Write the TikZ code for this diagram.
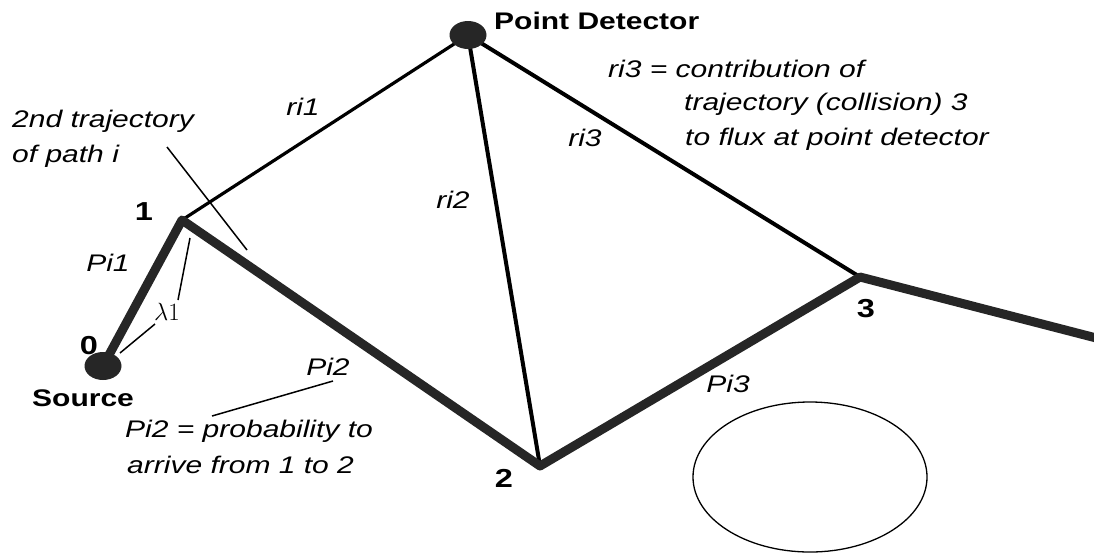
\documentclass[tikz,border=0pt]{standalone}
\usepackage{fontspec}
\setmainfont[FakeStretch=1.25]{Liberation Sans}
\usetikzlibrary{shapes.geometric}
\begin{document}
\begin{tikzpicture}[x=1pt,y=-1pt,
  blob/.style={ellipse, fill=black!85, inner sep=0pt, minimum width=37pt, minimum height=28pt},
  trackline/.style={line width=9pt, draw=black!85, line join=round},
  ray/.style={line width=4pt, draw=black},
  leader/.style={line width=1.5pt},
  lab/.style={font=\fontsize{24}{28}\selectfont\itshape, inner sep=0pt},
  num/.style={font=\fontsize{26}{30}\selectfont\bfseries, inner sep=0pt},
  ttl/.style={font=\fontsize{24}{28}\selectfont\bfseries, inner sep=0pt},
]
\useasboundingbox (0,0) rectangle (1094,555);

% collision points
\coordinate (p1) at (182,220);
\coordinate (p2) at (540,466);
\coordinate (p3) at (860,277);
\coordinate (pend) at (1104,340);
\coordinate (s0) at (103,366);
\coordinate (d0) at (468,35);

% rays to detector
\draw[ray, line width=3.2pt] (p1) -- (d0);
\draw[ray] (d0) -- (p2);
\draw[ray] (d0) -- (p3);

% path i
\draw[trackline] (s0) -- (p1) -- (p2) -- (p3) -- (pend);

% blobs
\node[blob] (src) at (s0) {};
\node[blob] (det) at (d0) {};

% labels
\node[ttl, anchor=base west] (detlab) at (494,29) {Point Detector};
\node[ttl, anchor=base west] (srclab) at (32,406) {Source};
\node[num] (n0) at (89,346) {0};
\node[num] (n1) at (144,212) {1};
\node[num] (n2) at (504,478) {2};
\node[num] (n3) at (866,309) {3};

\node[lab] (ri1) at (303,107) {ri1};
\node[lab] (ri2) at (453,200) {ri2};
\node[lab] (ri3) at (585,138) {ri3};
\node[lab] (pi1) at (108,263) {Pi1};
\node[lab] (pi2) at (328,367) {Pi2};
\node[lab] (pi3) at (728,384) {Pi3};
\node[inner sep=0pt, font=\fontsize{30}{32}\selectfont] (lam) at (167,312) {$\lambda1$};

\node[lab, anchor=base west] (t1) at (12,127) {2nd trajectory};
\node[lab, anchor=base west] (t2) at (12,162) {of path i};

\node[lab, anchor=base west] (c1) at (608,77) {ri3 = contribution of};
\node[lab, anchor=base west] (c2) at (684,110) {trajectory (collision) 3};
\node[lab, anchor=base west] (c3) at (685,145) {to flux at point detector};

\node[lab, anchor=base west] (q1) at (125,437) {Pi2 = probability to};
\node[lab, anchor=base west] (q2) at (127,473) {arrive from 1 to 2};

% leader lines
\coordinate (trA) at (167,147);
\coordinate (trB) at (247,250);
\draw[leader] (trA) -- (trB);
\coordinate (laA) at (190,238);
\coordinate (laB) at (178,300);
\draw[leader] (laA) -- (laB);
\coordinate (lbA) at (155,324);
\coordinate (lbB) at (120,353);
\draw[leader] (lbA) -- (lbB);
\coordinate (pqA) at (333,381);
\coordinate (pqB) at (212,416);
\draw[leader] (pqA) -- (pqB);

% empty region
\node[draw, ellipse, line width=1.3pt, minimum width=234pt, minimum height=150pt, inner sep=0pt] (reg) at (810,477) {};
\end{tikzpicture}
\end{document}
